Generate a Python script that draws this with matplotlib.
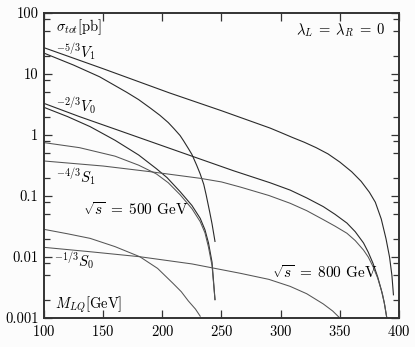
import matplotlib
matplotlib.use("Agg")
import matplotlib.pyplot as plt
from matplotlib.ticker import FixedLocator, FixedFormatter, NullFormatter

# 読み取った断面積 [pb]  (M_LQ [GeV])
m_v1_800 = [100, 150, 206, 250, 291, 300, 310, 320, 330, 340, 350, 360, 368, 375, 380, 385, 389, 392, 394, 395.3]
s_v1_800 = [27, 12.2, 4.9, 2.5, 1.3, 1.1, 0.91, 0.76, 0.62, 0.49, 0.36, 0.25, 0.174, 0.115, 0.079, 0.042, 0.02, 0.01, 0.005, 0.0024]

m_v1_500 = [100, 125, 147, 170, 180, 190, 198, 205, 210, 215, 218, 222, 225, 229, 232, 235, 237, 240, 242, 244.5]
s_v1_500 = [22, 14, 9.0, 5.0, 3.8, 2.75, 2.1, 1.6, 1.26, 0.98, 0.8, 0.6, 0.48, 0.32, 0.23, 0.155, 0.105, 0.055, 0.035, 0.018]

m_v0_800 = [100, 130, 160, 190, 225, 260, 291, 308, 322, 336, 346, 356, 363, 370, 374, 378, 382, 385, 387.5, 389.7]
s_v0_800 = [3.3, 2.0, 1.25, 0.78, 0.45, 0.26, 0.165, 0.125, 0.093, 0.067, 0.05, 0.036, 0.026, 0.017, 0.012, 0.0079, 0.0047, 0.0029, 0.0018, 0.001]

m_v0_500 = [100, 120, 139, 160, 180, 195, 204, 215, 225, 232, 236, 239, 242, 244.5]
s_v0_500 = [2.84, 2.0, 1.37, 0.82, 0.47, 0.28, 0.2, 0.118, 0.07, 0.043, 0.028, 0.017, 0.0082, 0.002]

m_s1_800 = [100, 150, 190, 232, 250, 266, 290, 308, 322, 336, 346, 356, 363, 370, 374, 378, 382, 386, 388, 389.7]
s_s1_800 = [0.375, 0.31, 0.25, 0.195, 0.17, 0.14, 0.102, 0.076, 0.0575, 0.041, 0.032, 0.0245, 0.0186, 0.013, 0.01, 0.007, 0.0045, 0.0025, 0.0016, 0.001]

m_s1_500 = [100, 130, 160, 180, 195, 205, 215, 225, 232, 236, 239, 242, 244.5]
s_s1_500 = [0.75, 0.62, 0.45, 0.32, 0.23, 0.165, 0.105, 0.062, 0.038, 0.025, 0.0145, 0.0072, 0.002]

m_s0_800 = [100, 139, 181, 225, 266, 290, 308, 322, 336, 344, 350]
s_s0_800 = [0.0144, 0.0122, 0.0101, 0.0077, 0.0054, 0.0043, 0.0033, 0.0025, 0.0017, 0.0013, 0.001]

m_s0_500 = [100, 120, 139, 160, 181, 196, 209, 216, 222, 228, 232]
s_s0_500 = [0.0284, 0.024, 0.0202, 0.0148, 0.0101, 0.0065, 0.0037, 0.0027, 0.0019, 0.0014, 0.00107]

x_ticks = [100, 150, 200, 250, 300, 350, 400]
y_ticks = [0.001, 0.01, 0.1, 1, 10, 100]
y_labels = ["0.001", "0.01", "0.1", "1", "10", "100"]

plt.rcParams["font.family"] = ["cmr10", "DejaVu Serif"]
plt.rcParams["mathtext.fontset"] = "cm"
plt.rcParams["axes.unicode_minus"] = False
plt.rcParams["axes.formatter.use_mathtext"] = True

fig = plt.figure(figsize=(4.15, 3.47), dpi=100, facecolor="#fcfcfc")
ax = fig.add_axes([44 / 415, 1 - 318 / 347, 355 / 415, 305 / 347])
ax.set_facecolor("#fcfcfc")

# V は濃い線, S は少し薄い線
for m, s in [(m_v1_800, s_v1_800), (m_v1_500, s_v1_500),
             (m_v0_800, s_v0_800), (m_v0_500, s_v0_500)]:
    ax.plot(m, s, color="#2a2a2a", lw=0.8)
for m, s in [(m_s1_800, s_s1_800), (m_s1_500, s_s1_500),
             (m_s0_800, s_s0_800), (m_s0_500, s_s0_500)]:
    ax.plot(m, s, color="#555555", lw=0.75)

ax.set_yscale("log")
ax.set_xlim(100, 400)
ax.set_ylim(0.001, 100)

ax.xaxis.set_major_locator(FixedLocator(x_ticks))
ax.yaxis.set_major_locator(FixedLocator(y_ticks))
ax.yaxis.set_major_formatter(FixedFormatter(y_labels))
minor = [d * k for d in [0.001, 0.01, 0.1, 1, 10] for k in (2, 5, 8)]
ax.yaxis.set_minor_locator(FixedLocator(minor))
ax.yaxis.set_minor_formatter(NullFormatter())
ax.xaxis.set_minor_locator(FixedLocator([]))

ax.tick_params(which="both", direction="in", top=True, right=True,
               labelsize=10.5, color="#333333", width=0.9)
ax.tick_params(which="major", length=6, pad=4)
ax.tick_params(which="minor", length=4)
for sp in ax.spines.values():
    sp.set_linewidth(1.4)
    sp.set_color("#333333")

def px(x, y):
    return ((x - 44) / 355, (318 - y) / 305)

fs = 10.5
ax.text(*px(56, 27), r"$\sigma_{tot}$[pb]", transform=ax.transAxes, fontsize=fs, va="center")
ax.text(*px(385, 30), r"$\lambda_L\;=\;\lambda_R\;=\;0$", transform=ax.transAxes,
        fontsize=fs, va="center", ha="right")
ax.text(*px(56, 52), r"$^{-5/3}V_1$", transform=ax.transAxes, fontsize=fs, va="center")
ax.text(*px(56, 106), r"$^{-2/3}V_0$", transform=ax.transAxes, fontsize=fs, va="center")
ax.text(*px(56, 177), r"$^{-4/3}S_1$", transform=ax.transAxes, fontsize=fs, va="center")
ax.text(*px(83, 209), r"$\sqrt{s}\;=\;500$ GeV", transform=ax.transAxes,
        fontsize=11, va="center")
ax.text(*px(54, 261), r"$^{-1/3}S_0$", transform=ax.transAxes, fontsize=fs, va="center")
ax.text(*px(272, 272), r"$\sqrt{s}\;=\;800$ GeV", transform=ax.transAxes,
        fontsize=11, va="center")
ax.text(*px(55, 305), r"$M_{LQ}$[GeV]", transform=ax.transAxes, fontsize=fs, va="center")

fig.savefig("out.png", dpi=100, facecolor=fig.get_facecolor())
